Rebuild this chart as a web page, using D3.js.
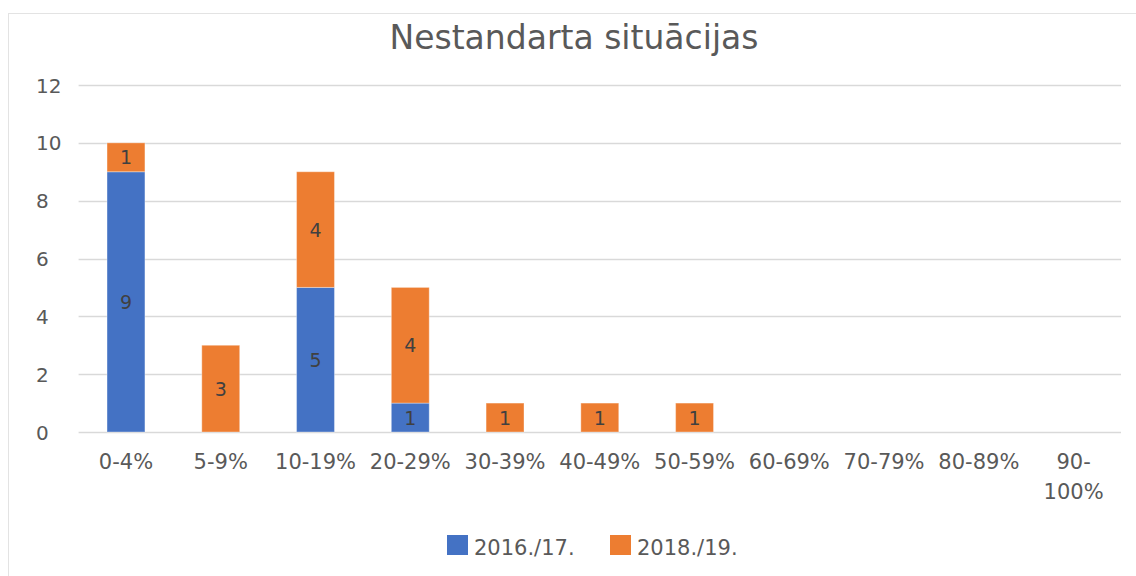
<!DOCTYPE html>
<html>
<head>
<meta charset="utf-8">
<script src="https://cdn.jsdelivr.net/npm/d3@7"></script>
<style>
  body { margin: 0; background: #fff; }
  text { font-family: "DejaVu Sans", sans-serif; }
</style>
</head>
<body>
<div class="container"></div>
<script>
const categories = ['0-4%', '5-9%', '10-19%', '20-29%', '30-39%', '40-49%', '50-59%', '60-69%', '70-79%', '80-89%', '90-100%'];
const series2016 = [9, 0, 5, 1, 0, 0, 0, 0, 0, 0, 0];
const series2018 = [1, 3, 4, 4, 1, 1, 1, 0, 0, 0, 0];
const seriesNames = ['2016./17.', '2018./19.'];
const yTicks = [0, 2, 4, 6, 8, 10, 12];

const w = 1136;
const h = 576;
const colors = ['#4472c4', '#ed7d31'];

const margin = { top: 85, right: 15, bottom: 144, left: 78.6 };

const svg = d3.select('.container')
    .append('svg')
    .attr('width', w)
    .attr('height', h);

// chart border
svg.append('rect')
    .attr('x', 8.5)
    .attr('y', 13.5)
    .attr('width', 1200)
    .attr('height', 700)
    .attr('fill', 'none')
    .attr('stroke', '#e3e3e3');

svg.append('text')
    .attr('x', 574)
    .attr('y', 49)
    .attr('text-anchor', 'middle')
    .style('font-size', '33px')
    .style('fill', '#595959')
    .text('Nestandarta situācijas');

const x = d3.scaleBand()
    .domain(categories)
    .range([margin.left, 1121])
    .paddingInner(0.6)
    .paddingOuter(0.3);

const y = d3.scaleLinear()
    .domain([0, 12])
    .range([432, margin.top]);

// gridlines
svg.append('g')
    .selectAll('line')
    .data(yTicks)
    .join('line')
    .attr('x1', margin.left)
    .attr('x2', 1121)
    .attr('y1', d => Math.round(y(d)) + 0.5)
    .attr('y2', d => Math.round(y(d)) + 0.5)
    .attr('stroke', '#d9d9d9')
    .attr('stroke-width', 1.5);

svg.append('g')
    .selectAll('text')
    .data(yTicks)
    .join('text')
    .attr('x', 36)
    .attr('y', d => y(d) + 7.5)
    .style('font-size', '20px')
    .style('fill', '#595959')
    .text(d => d);

const table = categories.map((c, i) => ({ cat: c, a: series2016[i], b: series2018[i] }));
const stacked = d3.stack().keys(['a', 'b'])(table);

const layer = svg.append('g')
    .selectAll('g')
    .data(stacked)
    .join('g')
    .attr('fill', (d, i) => colors[i]);

layer.selectAll('rect')
    .data(d => d.filter(s => s[1] - s[0] > 0))
    .join('rect')
    .attr('x', d => x(d.data.cat))
    .attr('width', x.bandwidth())
    .attr('y', d => y(d[1]))
    .attr('height', d => y(d[0]) - y(d[1]))
    .attr('stroke', '#ffffff')
    .attr('stroke-opacity', 0.35)
    .attr('stroke-width', 1);

layer.selectAll('text')
    .data(d => d.filter(s => s[1] - s[0] > 0))
    .join('text')
    .attr('x', d => x(d.data.cat) + x.bandwidth() / 2)
    .attr('y', d => (y(d[0]) + y(d[1])) / 2 + 7)
    .attr('text-anchor', 'middle')
    .style('font-size', '19px')
    .style('fill', '#404040')
    .text(d => d[1] - d[0]);

// x labels, wrap the last one like the original
svg.append('g')
    .selectAll('text')
    .data(categories)
    .join('text')
    .attr('x', d => x(d) + x.bandwidth() / 2)
    .attr('y', 469)
    .attr('text-anchor', 'middle')
    .style('font-size', '21px')
    .style('fill', '#595959')
    .each(function (d) {
        const parts = d === '90-100%' ? ['90-', '100%'] : [d];
        d3.select(this).selectAll('tspan')
            .data(parts)
            .join('tspan')
            .attr('x', x(d) + x.bandwidth() / 2)
            .attr('dy', (p, i) => i === 0 ? 0 : 30)
            .text(p => p);
    });

// legend
const legendX = [447, 610];
const legend = svg.append('g')
    .selectAll('g')
    .data(seriesNames)
    .join('g')
    .attr('transform', (d, i) => `translate(${legendX[i]}, 535)`);

legend.append('rect')
    .attr('width', 21)
    .attr('height', 20)
    .attr('fill', (d, i) => colors[i]);

legend.append('text')
    .attr('x', 27)
    .attr('y', 20)
    .style('font-size', '21px')
    .style('fill', '#595959')
    .text(d => d);
</script>
</body>
</html>
